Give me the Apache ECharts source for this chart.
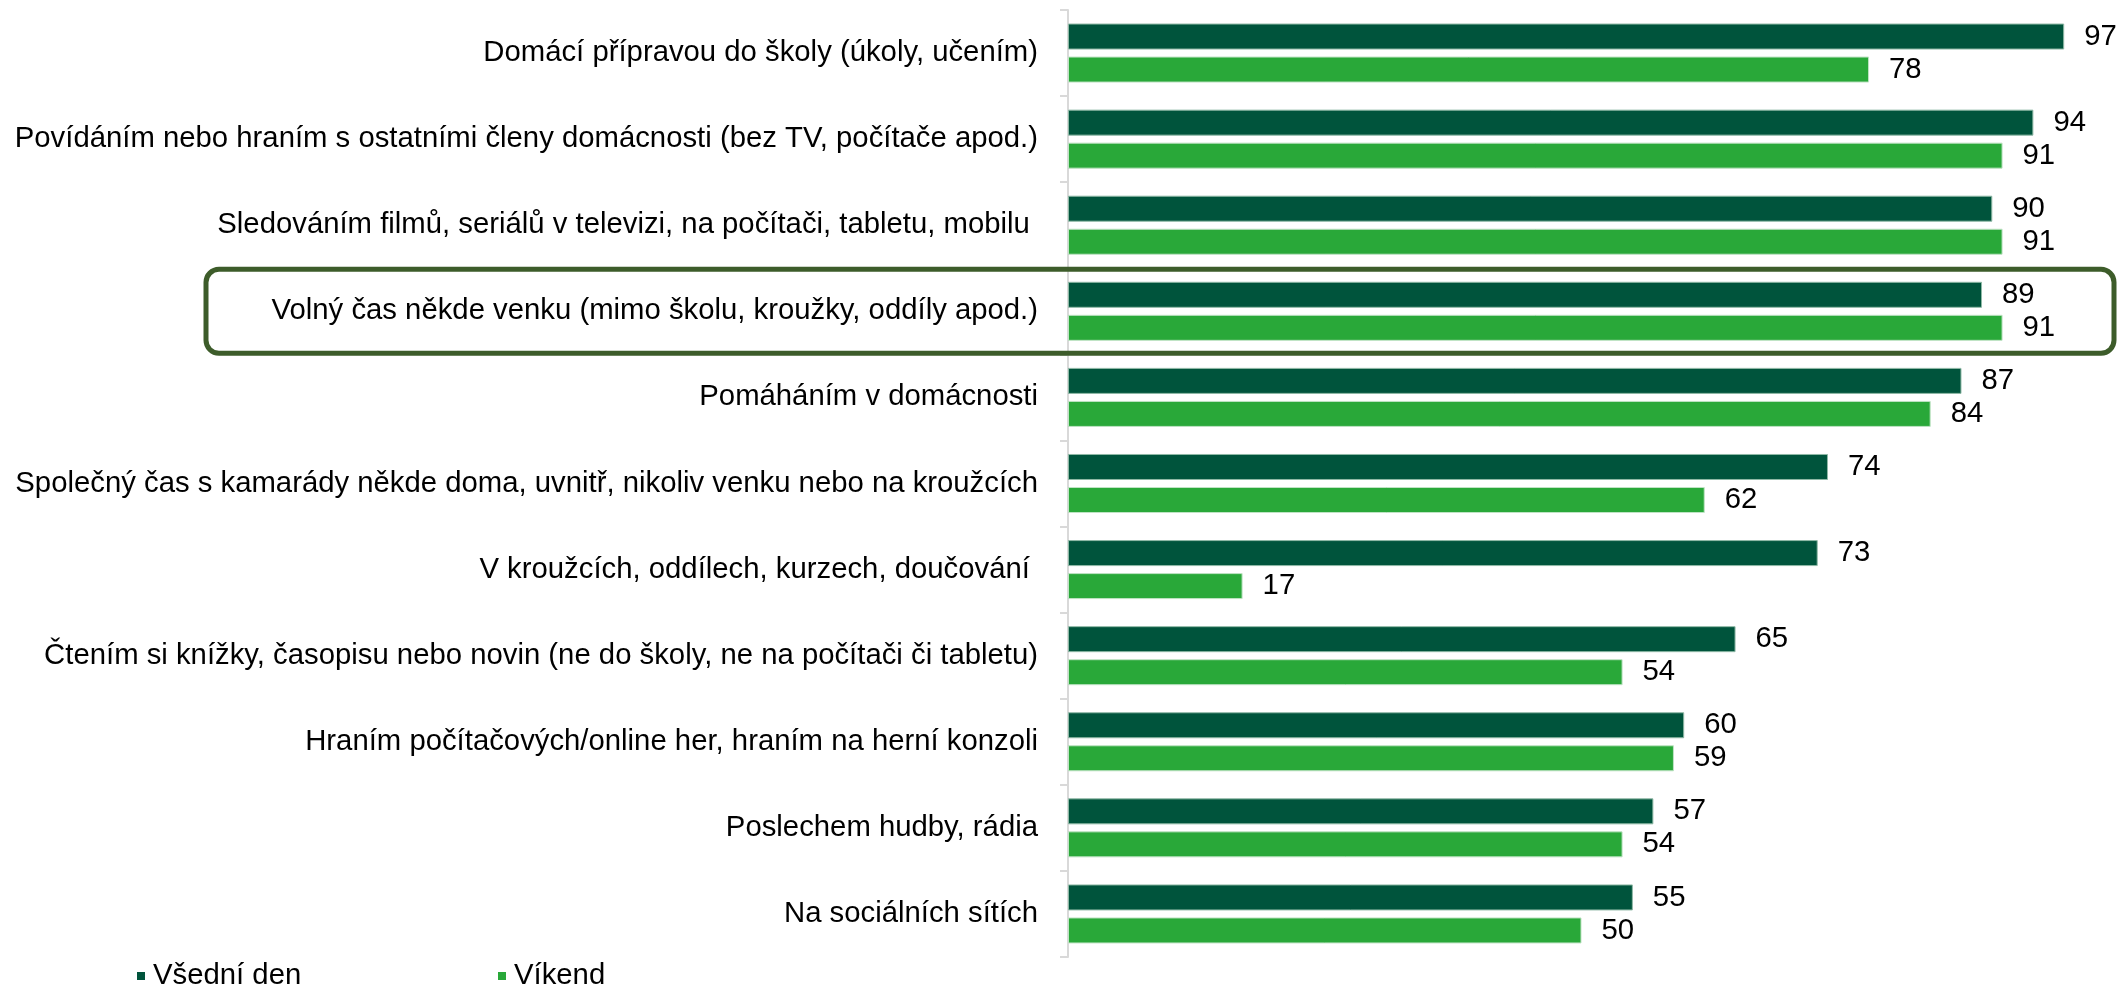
<!DOCTYPE html>
<html>
<head>
<meta charset="utf-8">
<script src="https://cdn.jsdelivr.net/npm/echarts@6/dist/echarts.min.js"></script>
<style>
  html, body { margin: 0; padding: 0; background: #fff; }
  #chart { width: 2118px; height: 987px; }
</style>
</head>
<body>
<div id="chart"></div>
<script>
// kategorie (shora dolů)
var categories = [
  'Domácí přípravou do školy (úkoly, učením)',
  'Povídáním nebo hraním s ostatními členy domácnosti (bez TV, počítače apod.)',
  'Sledováním filmů, seriálů v televizi, na počítači, tabletu, mobilu ',
  'Volný čas někde venku (mimo školu, kroužky, oddíly apod.)',
  'Pomáháním v domácnosti',
  'Společný čas s kamarády někde doma, uvnitř, nikoliv venku nebo na kroužcích',
  'V kroužcích, oddílech, kurzech, doučování ',
  'Čtením si knížky, časopisu nebo novin (ne do školy, ne na počítači či tabletu)',
  'Hraním počítačových/online her, hraním na herní konzoli',
  'Poslechem hudby, rádia',
  'Na sociálních sítích'
];
var seriesNames = ['Všední den', 'Víkend'];
var weekdayValues = [97, 94, 90, 89, 87, 74, 73, 65, 60, 57, 55];
var weekendValues = [78, 91, 91, 91, 84, 62, 17, 54, 59, 54, 50];
// zvýrazněná kategorie
var highlighted = 'Volný čas někde venku (mimo školu, kroužky, oddíly apod.)';

var FONT = 'Arial, "Liberation Sans", sans-serif';
var FS = 29.3;

var chart = echarts.init(document.getElementById('chart'));

var labelStyle = {
  show: true,
  position: 'right',
  distance: 20,
  color: '#000',
  fontFamily: FONT,
  fontSize: FS
};

var legendText = { color: '#000', fontFamily: FONT, fontSize: FS, lineHeight: 30, padding: [0, 0, 0, 3] };

chart.setOption({
  animation: false,
  backgroundColor: '#fff',
  grid: { left: 1068, right: 23, top: 10, bottom: 30, containLabel: false },
  xAxis: {
    type: 'value',
    min: 0,
    max: 100,
    show: false
  },
  yAxis: {
    type: 'category',
    inverse: true,
    data: categories,
    axisLine: { show: true, lineStyle: { color: '#D9D9D9', width: 2 } },
    axisTick: { show: true, length: 8, lineStyle: { color: '#D9D9D9', width: 2 } },
    axisLabel: { margin: 30, color: '#000', fontFamily: FONT, fontSize: FS }
  },
  legend: [{
    data: [seriesNames[0]],
    left: 132,
    top: 956,
    icon: 'rect',
    itemWidth: 8,
    itemHeight: 8,
    itemStyle: { borderWidth: 0 },
    textStyle: legendText
  }, {
    data: [seriesNames[1]],
    left: 493,
    top: 956,
    icon: 'rect',
    itemWidth: 8,
    itemHeight: 8,
    itemStyle: { borderWidth: 0 },
    textStyle: legendText
  }],
  series: [{
    name: seriesNames[0],
    type: 'bar',
    data: weekdayValues,
    barWidth: 26,
    barGap: '27%',
    itemStyle: { color: '#00543C', borderColor: '#8FB9A6', borderWidth: 1 },
    label: labelStyle
  }, {
    name: seriesNames[1],
    type: 'bar',
    data: weekendValues,
    barWidth: 26,
    itemStyle: { color: '#29A839', borderColor: '#BFE3C4', borderWidth: 1 },
    label: labelStyle
  }]
});

// rámeček kolem zvýrazněné kategorie
var cy = chart.convertToPixel({ yAxisIndex: 0 }, highlighted);
chart.setOption({
  graphic: [{
    type: 'rect',
    silent: true,
    z: 10,
    shape: { x: 206, y: cy - 42, width: 1908, height: 84, r: 13 },
    style: { fill: 'none', stroke: '#3D5C2A', lineWidth: 5 }
  }]
});
</script>
</body>
</html>
